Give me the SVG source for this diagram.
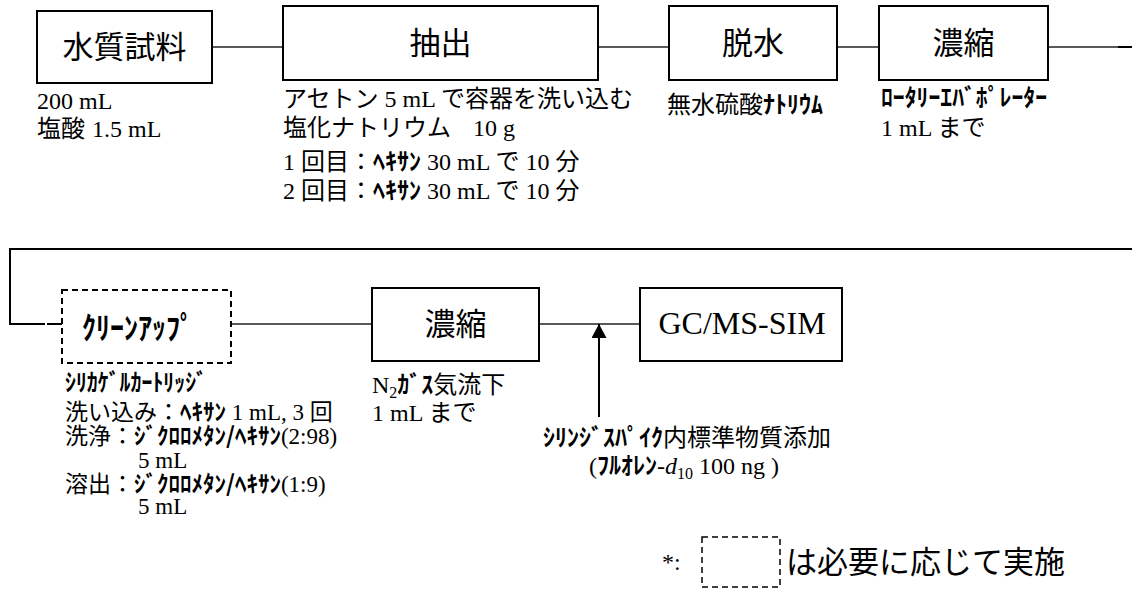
<svg xmlns="http://www.w3.org/2000/svg" width="1132" height="592" viewBox="0 0 1132 592">
<style>
.box{fill:#fff;stroke:#000;stroke-width:2}
.dash{stroke-dasharray:6 4}
.lbl{font-family:"Noto Sans CJK JP",sans-serif;font-size:31px;text-anchor:middle;fill:#000}
.sm{font-family:"Liberation Serif","Noto Sans CJK JP",serif;font-size:24px;fill:#000}
.cs{font-size:23px}
.hw{font-family:"Noto Sans CJK JP",sans-serif;font-weight:bold}
.conn{stroke:#222;stroke-width:1.6;fill:none}
.conn2{stroke:#000;stroke-width:2;fill:none}
.sub{font-size:16px}
</style>
<defs>
<marker id="ah" viewBox="0 0 14 15" refX="14" refY="7.5" markerWidth="14" markerHeight="15" markerUnits="userSpaceOnUse" orient="auto">
<path d="M0,0 L14,7.5 L0,15 z" fill="#000"/>
</marker>
</defs>
<g id="connectors">
<line class="conn" x1="212" y1="47" x2="283" y2="47"/>
<line class="conn" x1="598" y1="47" x2="669" y2="47"/>
<line class="conn" x1="837" y1="47" x2="879" y2="47"/>
<line class="conn" x1="1048" y1="47" x2="1132" y2="47"/>
<line class="conn2" x1="1118" y1="47" x2="1132" y2="47" stroke-width="2.6"/>
<polyline class="conn2" points="1132,249 10,249 10,324 45,324"/>
<line class="conn2" x1="283" y1="249" x2="330" y2="249" stroke-width="2.8"/>
<line class="conn2" x1="47" y1="324" x2="62" y2="324"/>
<line class="conn" x1="231" y1="324" x2="372" y2="324"/>
<line class="conn" x1="539" y1="324" x2="640" y2="324"/>
<line class="conn2" x1="599" y1="417" x2="599" y2="324" marker-end="url(#ah)"/>
</g>
<g id="n-sample">
<rect class="box" x="37" y="11" width="175" height="72"/>
<text class="lbl" x="124.5" y="58">水質試料</text>
<text class="sm" x="37" y="109">200 mL</text>
<text class="sm" x="37" y="137">塩酸<tspan x="92">1.5 mL</tspan></text>
</g>
<g id="n-extract">
<rect class="box" x="283" y="6" width="315" height="74"/>
<text class="lbl" x="440.5" y="54">抽出</text>
<text class="sm" x="283" y="107">アセトン 5 mL で容器を洗い込む</text>
<text class="sm" x="283" y="136">塩化ナトリウム<tspan x="473">10 g</tspan></text>
<text class="sm" x="283" y="170">1 回目：<tspan class="hw">ﾍｷｻﾝ</tspan> 30 mL で 10 分</text>
<text class="sm" x="283" y="199">2 回目：<tspan class="hw">ﾍｷｻﾝ</tspan> 30 mL で 10 分</text>
</g>
<g id="n-dehydrate">
<rect class="box" x="669" y="6" width="168" height="74"/>
<text class="lbl" x="753" y="54">脱水</text>
<text class="sm" x="667" y="113">無水硫酸<tspan class="hw">ﾅﾄﾘｳﾑ</tspan></text>
</g>
<g id="n-concentrate1">
<rect class="box" x="879" y="6" width="169" height="74"/>
<text class="lbl" x="963.5" y="54">濃縮</text>
<text class="sm hw" x="881" y="106" font-size="25" textLength="166" lengthAdjust="spacingAndGlyphs">ﾛｰﾀﾘｰｴﾊﾞﾎﾟﾚｰﾀｰ</text>
<text class="sm" x="881" y="136">1 mL まで</text>
</g>
<g id="n-cleanup">
<rect class="box dash" x="62" y="290" width="169" height="73"/>
<text class="hw" x="82" y="339" font-size="31" textLength="112" lengthAdjust="spacingAndGlyphs">ｸﾘｰﾝｱｯﾌﾟ</text>
<text class="sm hw" x="65" y="391" textLength="142" lengthAdjust="spacingAndGlyphs">ｼﾘｶｹﾞﾙｶｰﾄﾘｯｼﾞ</text>
<text class="sm cs" x="65" y="420">洗い込み：<tspan class="hw">ﾍｷｻﾝ</tspan> 1 mL, 3 回</text>
<text class="sm cs" x="65" y="444">洗浄：<tspan class="hw">ｼﾞｸﾛﾛﾒﾀﾝ/ﾍｷｻﾝ</tspan>(2:98)</text>
<text class="sm cs" x="138" y="468">5 mL</text>
<text class="sm cs" x="65" y="492">溶出：<tspan class="hw">ｼﾞｸﾛﾛﾒﾀﾝ/ﾍｷｻﾝ</tspan>(1:9)</text>
<text class="sm cs" x="138" y="514">5 mL</text>
</g>
<g id="n-concentrate2">
<rect class="box" x="372" y="288" width="167" height="73"/>
<text class="lbl" x="455.5" y="335">濃縮</text>
<text class="sm" x="372" y="393">N<tspan class="sub" dy="5">2</tspan><tspan class="hw" dy="-5">ｶﾞｽ</tspan>気流下</text>
<text class="sm" x="372" y="421">1 mL まで</text>
</g>
<g id="n-gcms">
<rect class="box" x="640" y="288" width="202" height="73"/>
<text x="742" y="334" style="font-family:'Liberation Serif',serif;font-size:32px;text-anchor:middle">GC/MS-SIM</text>
</g>
<g id="n-spike">
<text class="sm" x="543" y="446"><tspan class="hw">ｼﾘﾝｼﾞｽﾊﾟｲｸ</tspan>内標準物質添加</text>
<text class="sm" x="589" y="474">(<tspan class="hw">ﾌﾙｵﾚﾝ</tspan>-<tspan font-style="italic">d</tspan><tspan class="sub" dy="5">10</tspan><tspan dy="-5"> 100 ng )</tspan></text>
</g>
<g id="legend">
<text class="sm" x="662" y="570">*:</text>
<rect x="702" y="537" width="78" height="50" fill="none" stroke="#000" stroke-width="1.5" stroke-dasharray="6 4"/>
<text x="786" y="573" style="font-family:'Noto Sans CJK JP',sans-serif;font-size:31px">は必要に応じて実施</text>
</g>
</svg>
